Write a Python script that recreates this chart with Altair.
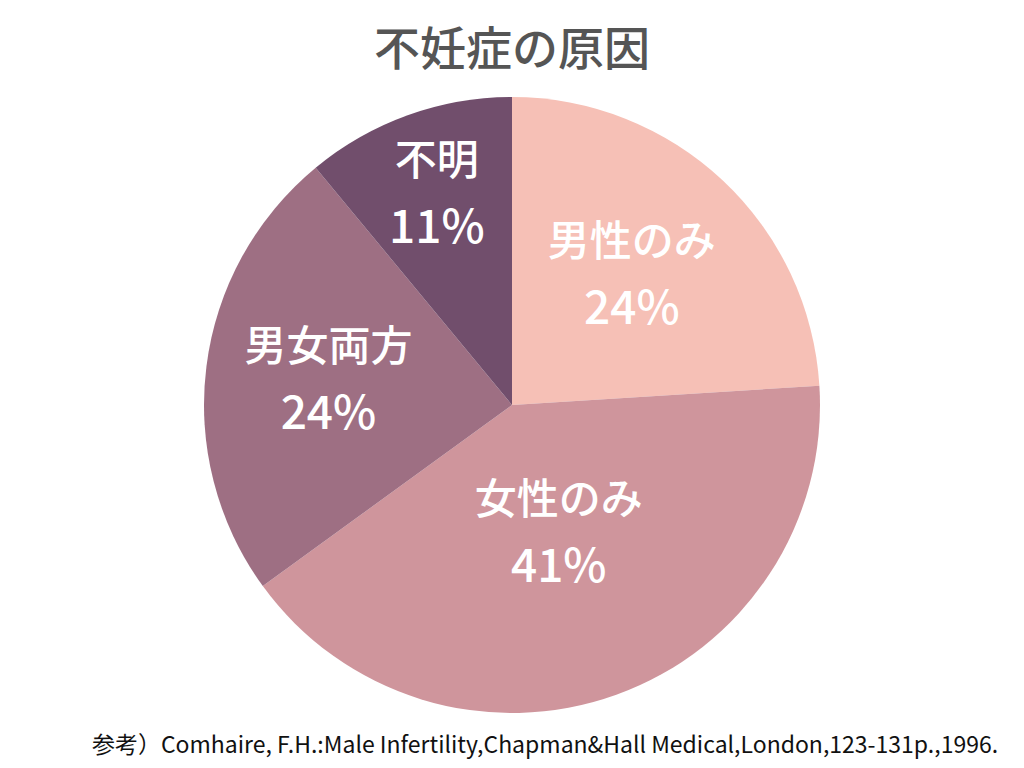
import altair as alt
import pandas as pd

# ===== データ =====
TITLE = "不妊症の原因"
CATEGORIES = ["男性のみ", "女性のみ", "男女両方", "不明"]
VALUES = [24, 41, 24, 11]
COLORS = ["#f6c0b6", "#cf959c", "#9e6f83", "#714e6c"]
SOURCE = "参考）Comhaire, F.H.:Male Infertility,Chapman&Hall Medical,London,123-131p.,1996."

# ===== レイアウト =====
FONT = "Noto Sans CJK JP"
W, H = 1008, 752
CX, CY = 504, 397
# ラベルの中心からの距離（カテゴリ別）
LABEL_RADIUS = {"男性のみ": 175, "女性のみ": 138, "男女両方": 185, "不明": 222}

df = pd.DataFrame({
    "category": CATEGORIES,
    "value": VALUES,
    "order": list(range(len(CATEGORIES))),
})
df["pct"] = df["value"].astype(str) + "%"

base = alt.Chart(df).encode(
    theta=alt.Theta("value:Q", stack=True),
    order=alt.Order("order:Q"),
)

pie = base.mark_arc(x=CX, y=CY, outerRadius=308).encode(
    color=alt.Color("category:N", scale=alt.Scale(domain=CATEGORIES, range=COLORS), legend=None),
)

layers = [pie]
for cat in CATEGORIES:
    r = LABEL_RADIUS[cat]
    names = base.mark_text(
        x=CX, y=CY, radius=r, dy=-34, font=FONT, fontSize=42, fontWeight=500, color="white"
    ).encode(
        text=alt.condition(alt.datum.category == cat, "category:N", alt.value("")),
    )
    pcts = base.mark_text(
        x=CX, y=CY, radius=r, dy=33, font=FONT, fontSize=46, fontWeight=500, color="white"
    ).encode(
        text=alt.condition(alt.datum.category == cat, "pct:N", alt.value("")),
    )
    layers += [names, pcts]

title = alt.Chart(pd.DataFrame({"t": [TITLE]})).mark_text(
    x=CX, y=43, font=FONT, fontSize=46, fontWeight=500, color="#555555"
).encode(text="t:N")

source = alt.Chart(pd.DataFrame({"t": [SOURCE]})).mark_text(
    x=537, y=738, font=FONT, fontSize=23, color="#111111"
).encode(text="t:N")

layers += [title, source]

chart = alt.layer(*layers).properties(
    width=W, height=H, autosize=alt.AutoSizeParams(type="none"), padding=0,
).configure_view(stroke=None).configure(background="white")

chart.save("out.html", embed_options={"renderer": "svg", "actions": False})
